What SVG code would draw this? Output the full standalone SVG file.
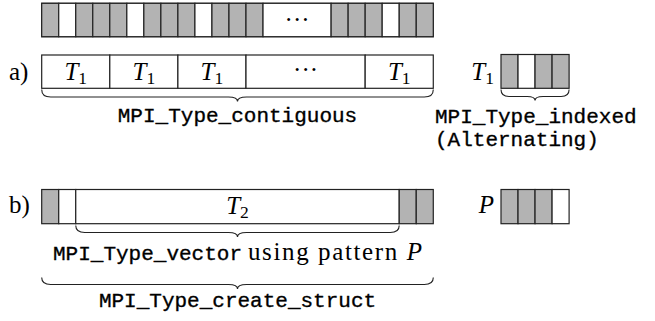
<svg xmlns="http://www.w3.org/2000/svg" width="655" height="321" viewBox="0 0 655 321">
<style>
.c{fill:#fff;stroke:#222;stroke-width:1.2}
.g{fill:#b3b3b3;stroke:#222;stroke-width:1.2}
.br{fill:none;stroke:#222;stroke-width:1.1}
.tt{font-family:"Liberation Mono","DejaVu Sans Mono",monospace;font-size:21px;fill:#000;stroke:#000;stroke-width:0.35}
.rm{font-family:"Liberation Serif","DejaVu Serif",serif;font-size:25px;fill:#000}
.it{font-style:italic}
.sub{font-size:17.5px;font-style:normal}
</style>
<rect width="655" height="321" fill="#fff"/>

<g id="top-strip">
<rect class="c" x="41.7" y="3.3" width="391.58" height="33.4"/>
<rect class="g" x="41.7" y="3.3" width="17.03" height="33.4"/>
<rect class="c" x="58.73" y="3.3" width="17.02" height="33.4"/>
<rect class="g" x="75.75" y="3.3" width="17.03" height="33.4"/>
<rect class="g" x="92.78" y="3.3" width="17.02" height="33.4"/>
<rect class="g" x="109.8" y="3.3" width="17.03" height="33.4"/>
<rect class="c" x="126.83" y="3.3" width="17.02" height="33.4"/>
<rect class="g" x="143.85" y="3.3" width="17.03" height="33.4"/>
<rect class="g" x="160.88" y="3.3" width="17.02" height="33.4"/>
<rect class="g" x="177.9" y="3.3" width="17.03" height="33.4"/>
<rect class="c" x="194.93" y="3.3" width="17.02" height="33.4"/>
<rect class="g" x="211.95" y="3.3" width="17.03" height="33.4"/>
<rect class="g" x="228.98" y="3.3" width="17.02" height="33.4"/>
<rect class="g" x="246" y="3.3" width="17.03" height="33.4"/>
<rect class="c" x="263.03" y="3.3" width="68.1" height="33.4"/>
<rect class="g" x="331.13" y="3.3" width="17.02" height="33.4"/>
<rect class="g" x="348.15" y="3.3" width="17.03" height="33.4"/>
<rect class="g" x="365.18" y="3.3" width="17.02" height="33.4"/>
<rect class="c" x="382.2" y="3.3" width="17.03" height="33.4"/>
<rect class="g" x="399.23" y="3.3" width="17.02" height="33.4"/>
<rect class="g" x="416.25" y="3.3" width="17.03" height="33.4"/>
<text class="rm" x="297.08" y="27.5" text-anchor="middle">···</text>
</g>

<g id="row-a">
<text class="rm" x="9" y="80">a)</text>
<rect class="c" x="41.7" y="55" width="68.1" height="33.3"/>
<rect class="c" x="109.8" y="55" width="68.1" height="33.3"/>
<rect class="c" x="177.9" y="55" width="68.1" height="33.3"/>
<rect class="c" x="246" y="55" width="119.18" height="33.3"/>
<rect class="c" x="365.18" y="55" width="68.1" height="33.3"/>
<text class="rm" x="75.75" y="80" text-anchor="middle"><tspan class="it">T</tspan><tspan class="sub" dy="4">1</tspan></text>
<text class="rm" x="143.85" y="80" text-anchor="middle"><tspan class="it">T</tspan><tspan class="sub" dy="4">1</tspan></text>
<text class="rm" x="211.95" y="80" text-anchor="middle"><tspan class="it">T</tspan><tspan class="sub" dy="4">1</tspan></text>
<text class="rm" x="305.6" y="78" text-anchor="middle">···</text>
<text class="rm" x="399.23" y="80" text-anchor="middle"><tspan class="it">T</tspan><tspan class="sub" dy="4">1</tspan></text>
</g>

<g id="pattern-t1">
<text class="rm" x="494" y="80" text-anchor="end"><tspan class="it">T</tspan><tspan class="sub" dy="4">1</tspan></text>
<rect class="g" x="501" y="54.5" width="17.03" height="33.8"/>
<rect class="c" x="518.03" y="54.5" width="17.02" height="33.8"/>
<rect class="g" x="535.05" y="54.5" width="17.03" height="33.8"/>
<rect class="g" x="552.08" y="54.5" width="17.02" height="33.8"/>
</g>

<g id="row-b">
<text class="rm" x="9" y="213">b)</text>
<rect class="g" x="41.7" y="189.5" width="17.03" height="34.2"/>
<rect class="c" x="58.73" y="189.5" width="17.02" height="34.2"/>
<rect class="c" x="75.75" y="189.5" width="323.48" height="34.2"/>
<rect class="g" x="399.23" y="189.5" width="17.02" height="34.2"/>
<rect class="g" x="416.25" y="189.5" width="17.03" height="34.2"/>
<text class="rm" x="237.5" y="214" text-anchor="middle"><tspan class="it">T</tspan><tspan class="sub" dy="4">2</tspan></text>
</g>

<g id="pattern-p">
<text class="rm it" x="494" y="213" text-anchor="end">P</text>
<rect class="g" x="501" y="189.5" width="17.03" height="34.2"/>
<rect class="g" x="518.03" y="189.5" width="17.02" height="34.2"/>
<rect class="g" x="535.05" y="189.5" width="17.03" height="34.2"/>
<rect class="c" x="552.08" y="189.5" width="17.02" height="34.2"/>
</g>

<g id="connectors">
<path class="br" d="M41.7,89.5 Q41.7,97 50.7,97 L228.5,97 Q237.5,97 237.5,101.5 Q237.5,97 246.5,97 L424.3,97 Q433.3,97 433.3,89.5"/>
<path class="br" d="M501,89.5 Q501,96.5 509,96.5 L527.05,96.5 Q535.05,96.5 535.05,100.5 Q535.05,96.5 543.05,96.5 L561.1,96.5 Q569.1,96.5 569.1,89.5"/>
<path class="br" d="M75.75,225.5 Q75.75,232.5 84.75,232.5 L228.5,232.5 Q237.5,232.5 237.5,237 Q237.5,232.5 246.5,232.5 L390.2,232.5 Q399.2,232.5 399.2,225.5"/>
<path class="br" d="M41.7,277.5 Q41.7,284.5 50.7,284.5 L228.5,284.5 Q237.5,284.5 237.5,289 Q237.5,284.5 246.5,284.5 L424.3,284.5 Q433.3,284.5 433.3,277.5"/>
</g>

<g id="labels">
<text class="tt" x="237.5" y="122" text-anchor="middle">MPI_Type_contiguous</text>
<text class="tt" x="435" y="123">MPI_Type_indexed</text>
<text class="tt" x="435" y="146">(Alternating)</text>
<text class="tt" x="53" y="260">MPI_Type_vector</text>
<text class="rm" x="248" y="260" textLength="174" lengthAdjust="spacing">using pattern <tspan class="it">P</tspan></text>
<text class="tt" x="237.5" y="307" text-anchor="middle">MPI_Type_create_struct</text>
</g>
</svg>
